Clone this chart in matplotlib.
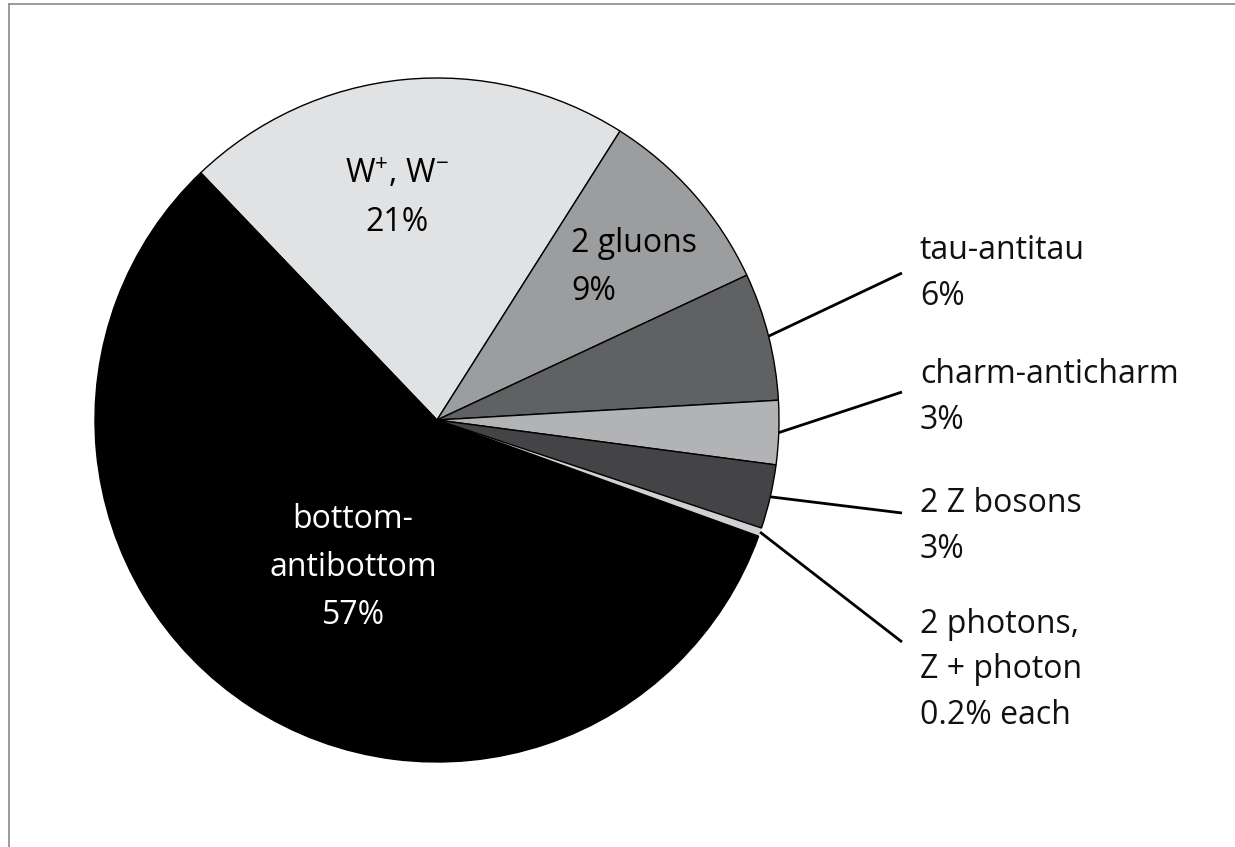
import numpy as np
import matplotlib
matplotlib.use("Agg")
import matplotlib.pyplot as plt
from matplotlib.lines import Line2D

# ---- data ----
channels = ["W+, W-", "2 gluons", "tau-antitau", "charm-anticharm", "2 Z bosons",
            "2 photons", "Z + photon", "bottom-antibottom"]
shares = [21, 9, 6, 3, 3, 0.2, 0.2, 57]
colors = ["#e1e2e4", "#9c9d9f", "#606163", "#b2b3b5", "#444446", "#cfd0d2", "#cfd0d2", "#000000"]

inner_labels = {
    0: ["W$^{+}$, W$^{\u2212}$", "21%"],
    1: ["2 gluons", "9%"],
    7: ["bottom-", "antibottom", "57%"],
}
outer_labels = {
    2: ["tau-antitau", "6%"],
    3: ["charm-anticharm", "3%"],
    4: ["2 Z bosons", "3%"],
    5: ["2 photons,", "Z + photon", "0.2% each"],
}

# ---- layout ----
W, H = 1235, 847
plt.rcParams['font.family'] = ['Open Sans', 'DejaVu Sans']
plt.rcParams['mathtext.default'] = 'regular'
FS = 23
fig = plt.figure(figsize=(W / 100, H / 100), dpi=100)
ax = fig.add_axes([0, 0, 1, 1])

def Y(y):
    return H - y

cx, cy, R = 437, Y(420), 342
start = 133.7
wedges, _ = ax.pie(shares, colors=colors, startangle=start, counterclock=False,
                   center=(cx, cy), radius=R, frame=True,
                   wedgeprops=dict(edgecolor='black', linewidth=1.0))
ax.set_xlim(0, W)
ax.set_ylim(0, H)
ax.set_aspect('equal')
ax.axis('off')
# photon wedges: no internal separator
for i in (5, 6):
    wedges[i].set_edgecolor(colors[i])
    wedges[i].set_linewidth(0.3)
wedges[4].set_zorder(3)
wedges[7].set_zorder(3)

# inner labels: (x, first baseline, ha, text color)
inner_pos = {0: (397, 183, 'center', 'black'),
             1: (571, 252, 'left', 'black'),
             7: (353, 528, 'center', 'white')}
spacing_in = 48
for i, lines in inner_labels.items():
    x, yb, ha, col = inner_pos[i]
    for k, t in enumerate(lines):
        ax.text(x, Y(yb + k * spacing_in), t, ha=ha, va='baseline',
                fontsize=FS, color=col, zorder=5)

# outer labels: leader from wedge edge (mid-angle) to (902, yend)
outer_pos = {2: (273, 259), 3: (392, 383), 4: (513, 512), 5: (642, 633)}
spacing_out = 45.5
for i, lines in outer_labels.items():
    if i == 5:
        ang = np.deg2rad(wedges[5].theta1)  # boundary between the two tiny wedges
    else:
        ang = np.deg2rad((wedges[i].theta1 + wedges[i].theta2) / 2)
    x0, y0 = cx + R * np.cos(ang), cy + R * np.sin(ang)
    yend, yb = outer_pos[i]
    ax.plot([x0, 902], [y0, Y(yend)], color='black', lw=2.0, solid_capstyle='butt', zorder=4)
    for k, t in enumerate(lines):
        ax.text(920, Y(yb + k * spacing_out), t, ha='left', va='baseline',
                fontsize=FS, color='#111111', zorder=5)

# frame (top and left edges)
fig.add_artist(Line2D([9 / W, 1], [1 - 4 / H, 1 - 4 / H], color='#8a8a8a', lw=1.2))
fig.add_artist(Line2D([9 / W, 9 / W], [0, 1 - 4 / H], color='#8a8a8a', lw=1.2))

fig.savefig("out.png", dpi=100, facecolor='white')
